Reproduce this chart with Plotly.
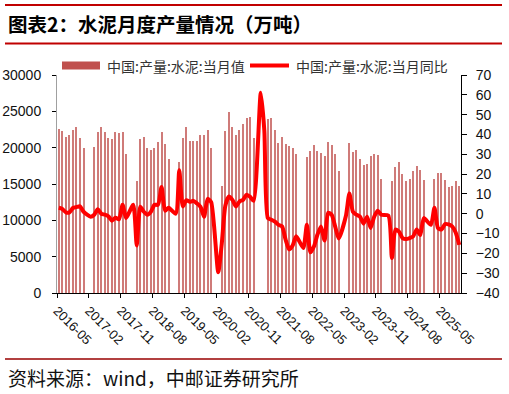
import plotly.graph_objects as go
import pandas as pd

# ---- data ----
months = [p.strftime("%Y-%m") for p in pd.period_range("2016-05", "2025-10", freq="M")]

N = None
# 中国:产量:水泥:当月值 (万吨), Jan/Feb not reported
production = [
    22558, 22283, 21458, 21733, 22420, 22787, 21274, 19945,                      # 2016-05..12
    N, N, 20128, 22146, 22787, 22146, 21274, 21137, 22146, 21962, 22146, 19119,  # 2017
    N, N, 15406, 21137, 21458, 19945, 19670, 19945, 20816, 22146, 20449, 18386,  # 2018
    N, N, 18019, 21274, 22787, 20953, 20953, 20953, 21779, 21779, 22375, 19945,  # 2019
    N, N, 14700, 22283, 24870, 22877, 21750, 22420, 23290, 24027, 24190, 21277,  # 2020
    N, N, N, 23910, 24070, 22400, 20610, 21480, 20449, 20174, 19945, 19119,      # 2021
    N, N, 18661, 19532, 20312, 19532, 19257, 18844, 20816, 20312, 19119, 16827,  # 2022
    N, N, 20633, 19349, 19670, 18478, 17652, 17790, 18799, 19074, 18936, 15681,  # 2023
    N, N, 15360, 17331, 18019, 16323, 15360, 15681, 16827, 17469, 16919, 15543,  # 2024
    N, N, 15681, 16506, 16506, 15497, 14534, 14718, 15360, 14718,                # 2025-01..10
]

# 中国:产量:水泥:当月同比 (%), Jan not reported
yoy = [
    3.0, 2.4, 0.7, 0.7, 2.9, 3.4, 3.7, 1.0,                                  # 2016-05..12
    N, -1.5, -0.5, 2.2, 0.0, -0.5, -1.3, -3.5, -2.0, -2.8, 4.5, -2.2,         # 2017
    N, 4.5, -16.0, 3.5, 1.0, -0.5, 1.0, 4.5, 4.5, 13.5, 1.5, 3.0,             # 2018
    N, 0.0, 22.0, 3.7, 6.8, 6.0, 6.5, 5.2, 3.5, -1.5, 7.5, 5.8,               # 2019
    N, -29.5, -15.0, 4.0, 8.7, 7.0, 3.7, 6.2, 7.0, 9.6, 8.5, 6.5,             # 2020
    N, 61.0, 42.0, -2.2, -3.0, -4.0, -5.6, -6.4, -13.0, -18.0, -16.0, -11.4,  # 2021
    N, -17.3, -5.6, -19.5, -16.5, -10.5, -6.5, -13.5, 0.5, -0.5, -6.5, -12.5, # 2022
    N, -1.3, 10.2, 1.0, -0.5, -1.5, -5.0, -1.5, -7.2, -1.5, 1.5, -0.5,        # 2023
    N, -1.0, -22.4, -8.0, -9.0, -12.3, -12.8, -12.3, -11.4, -8.0, -10.8, -2.2,# 2024
    N, -5.6, 3.0, -7.2, -8.0, -5.2, -5.4, -6.4, -9.5, -15.7,                  # 2025-01..10
]

tick_labels = ["2016-05", "2017-02", "2017-11", "2018-08", "2019-05", "2020-02", "2020-11",
               "2021-08", "2022-05", "2023-02", "2023-11", "2024-08", "2025-05"]

bar_name = "中国:产量:水泥:当月值"
line_name = "中国:产量:水泥:当月同比"
title_text = "图表2：水泥月度产量情况（万吨）"
source_text = "资料来源：wind，中邮证券研究所"

# ---- figure ----
W, H = 509, 394
L, R, T, B = 57, 461, 75, 293  # plot area in pixels
pos = list(range(len(months)))

BAR_COLOR = "#C0504D"
LINE_COLOR = "#FF0000"
TICK_FONT = dict(family="Liberation Sans, Arial, sans-serif", size=14, color="#111")
CJK = "Noto Sans CJK SC"

fig = go.Figure()
fig.add_trace(go.Bar(x=pos, y=production, name=bar_name, customdata=months,
                     marker=dict(color=BAR_COLOR, line=dict(width=0)), width=0.3,
                     opacity=0.75, showlegend=False))
fig.add_trace(go.Scatter(x=pos, y=yoy, name=line_name, yaxis="y2", mode="lines",
                         customdata=months, connectgaps=True,
                         line=dict(color=LINE_COLOR, width=4, shape="spline", smoothing=0.6),
                         showlegend=False))


def px(x):
    return (x - L) / (R - L)


def py(y):
    return (B - y) / (B - T)


shapes = [
    # header / footer rules
    dict(type="line", xref="paper", yref="paper", x0=px(5), x1=px(502), y0=py(5), y1=py(5),
         line=dict(color="#C00000", width=2)),
    dict(type="line", xref="paper", yref="paper", x0=px(5), x1=px(502), y0=py(43.5), y1=py(43.5),
         line=dict(color="#C00000", width=2)),
    dict(type="line", xref="paper", yref="paper", x0=px(5), x1=px(502), y0=py(359), y1=py(359),
         line=dict(color="#990000", width=1.5)),
    # legend swatches
    dict(type="rect", xref="paper", yref="paper", x0=px(62), x1=px(100), y0=py(69.5), y1=py(61.5),
         fillcolor=BAR_COLOR, line=dict(width=0)),
    dict(type="line", xref="paper", yref="paper", x0=px(250), x1=px(289), y0=py(65.5), y1=py(65.5),
         line=dict(color=LINE_COLOR, width=4)),
]

annotations = [
    dict(text=title_text, xref="paper", yref="paper", x=px(6), y=py(24), xanchor="left",
         yanchor="middle", showarrow=False,
         font=dict(family=CJK, size=19.5, color="#000", weight="bold")),
    dict(text=source_text, xref="paper", yref="paper", x=px(6), y=py(377), xanchor="left",
         yanchor="middle", showarrow=False, font=dict(family=CJK, size=19, color="#111")),
    dict(text=bar_name, xref="paper", yref="paper", x=px(105), y=py(65.5), xanchor="left",
         yanchor="middle", showarrow=False, font=dict(family=CJK, size=14, color="#333")),
    dict(text=line_name, xref="paper", yref="paper", x=px(294), y=py(65.5), xanchor="left",
         yanchor="middle", showarrow=False, font=dict(family=CJK, size=14, color="#333")),
]

fig.update_layout(
    width=W, height=H,
    margin=dict(l=L, r=W - R, t=T, b=H - B, pad=0, autoexpand=False),
    paper_bgcolor="white", plot_bgcolor="white",
    bargap=0, showlegend=False,
    shapes=shapes, annotations=annotations,
    xaxis=dict(range=[-0.5, len(months) - 0.5], automargin=False,
               tickmode="array",
               tickvals=[months.index(m) - 0.5 for m in tick_labels],
               ticktext=tick_labels, tickangle=45,
               ticks="outside", ticklen=4, tickcolor="#000",
               showline=True, linecolor="#000", linewidth=1,
               showgrid=False, zeroline=False,
               tickfont=dict(family="Liberation Sans, Arial, sans-serif", size=13, color="#111")),
    yaxis=dict(range=[0, 30000], tickmode="linear", tick0=0, dtick=5000, tickformat="d",
               automargin=False,
               ticks="outside", ticklen=4, tickcolor="#000",
               showline=True, linecolor="#a0a0a0", linewidth=1,
               showgrid=False, zeroline=False, tickfont=TICK_FONT, ticklabelstandoff=8),
    yaxis2=dict(range=[-40, 70], tickmode="linear", tick0=-40, dtick=10,
                overlaying="y", side="right", automargin=False,
                ticks="outside", ticklen=5, tickcolor="#000",
                showline=True, linecolor="#000", linewidth=1,
                showgrid=False, zeroline=False, tickfont=TICK_FONT, ticklabelstandoff=6),
)

fig.write_html("out.html")
